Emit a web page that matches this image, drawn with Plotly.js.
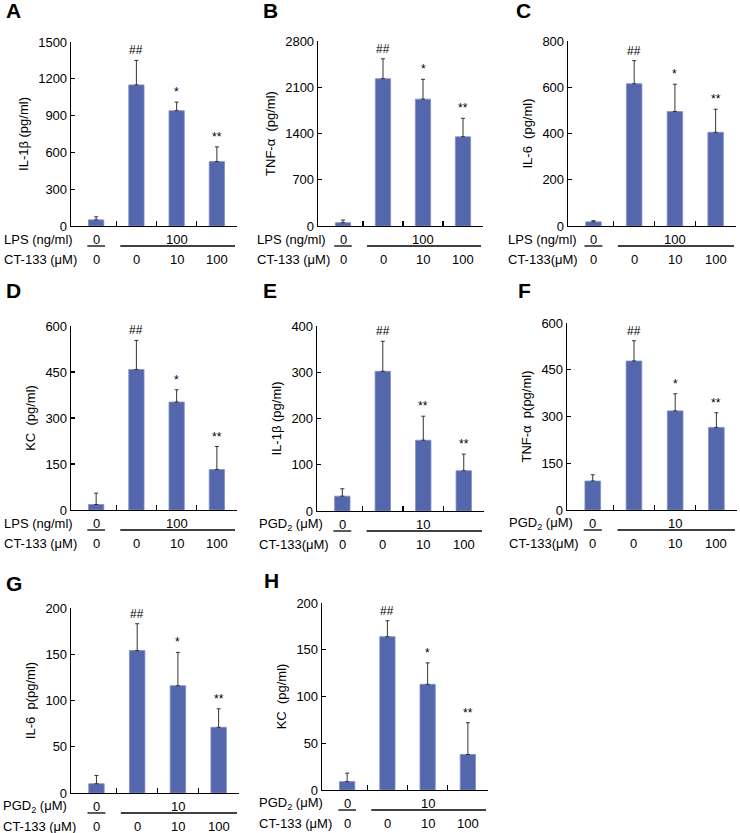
<!DOCTYPE html>
<html>
<head>
<meta charset="utf-8">
<script src="https://cdn.plot.ly/plotly-3.0.1.min.js"></script>
<style>
  body { margin: 0; background: #fff; }
  #chart { width: 740px; height: 833px; }
</style>
</head>
<body>
<div id="chart"></div>
<script>
// bar order: control, stimulus alone, stimulus + CT-133 10, stimulus + CT-133 100
const groups = [0, 1, 2, 3];
const ct133Doses = ['0', '0', '10', '100'];

// LPS panels (A-D)
const il1bLps = [50, 1150, 940, 525];
const il1bLpsErr = [25, 200, 70, 120];
const tnfLps = [50, 2230, 1920, 1350];
const tnfLpsErr = [40, 300, 300, 280];
const il6Lps = [18, 615, 495, 405];
const il6LpsErr = [5, 100, 118, 100];
const kcLps = [18, 458, 352, 132];
const kcLpsErr = [37, 95, 40, 75];

// PGD2 panels (E-H)
const il1bPgd = [32, 302, 153, 87];
const il1bPgdErr = [16, 65, 52, 36];
const tnfPgd = [93, 478, 318, 265];
const tnfPgdErr = [20, 65, 55, 47];
const il6Pgd = [10, 154, 116, 71];
const il6PgdErr = [9, 29, 36, 20];
const kcPgd = [9, 164, 113, 38];
const kcPgdErr = [9, 17, 23, 34];

const sigLps = ['', '##', '*', '**'];
const sigPgdE = ['', '##', '**', '**'];
const sigPgd = ['', '##', '*', '**'];

const panelLetters = ['A', 'B', 'C', 'D', 'E', 'F', 'G', 'H'];
const yTitles = ['IL-1β (pg/ml)', 'TNF-α\u00a0\u00a0(pg/ml)', 'IL-6\u00a0\u00a0(pg/ml)', 'KC\u00a0\u00a0(pg/ml)',
                 'IL-1β (pg/ml)', 'TNF-α\u00a0\u00a0p(pg/ml)', 'IL-6\u00a0\u00a0p(pg/ml)', 'KC\u00a0\u00a0(pg/ml)'];
const yMax = [1500, 2800, 800, 600, 400, 600, 200, 200];
const yStep = [300, 700, 200, 150, 100, 150, 50, 50];
const stimLabels = ['LPS (ng/ml)', 'LPS (ng/ml)', 'LPS (ng/ml)', 'LPS (ng/ml)',
                    'PGD<sub>2</sub> (μM)', 'PGD<sub>2</sub> (μM)', 'PGD<sub>2</sub> (μM)', 'PGD<sub>2</sub> (μM)'];
const stimDoses = [['0', '100'], ['0', '100'], ['0', '100'], ['0', '100'],
                   ['0', '10'], ['0', '10'], ['0', '10'], ['0', '10']];
const ctLabels = ['CT-133 (μM)', 'CT-133 (μM)', 'CT-133(μM)', 'CT-133 (μM)',
                  'CT-133(μM)', 'CT-133(μM)', 'CT-133 (μM)', 'CT-133 (μM)'];

const means = [il1bLps, tnfLps, il6Lps, kcLps, il1bPgd, tnfPgd, il6Pgd, kcPgd];
const errs = [il1bLpsErr, tnfLpsErr, il6LpsErr, kcLpsErr, il1bPgdErr, tnfPgdErr, il6PgdErr, kcPgdErr];
const sigs = [sigLps, sigLps, sigLps, sigLps, sigPgdE, sigPgd, sigPgd, sigPgd];

// panel placement in pixels: left, top, right, bottom of the plot area
const W = 740, H = 833;
const boxes = [
  [71, 42, 237, 226], [318, 41, 483, 226], [568, 41, 736, 226],
  [71, 326, 237, 510], [317, 326, 484, 511], [567, 323, 737, 510],
  [71, 608, 239, 793], [322, 603, 488, 790]
];
const labelX = [2, 255, 506, 2, 257, 507, 1, 257];
const letterPos = [[4, -3], [261, -3], [514, -3], [4, 277], [261, 277], [516, 277], [4, 570], [262, 567]];

const font = 'Arial, "Liberation Sans", sans-serif';
const px = v => v / W;
const py = v => 1 - v / H;

const traces = [];
const annotations = [];
const shapes = [];
const layout = {
  width: W, height: H,
  margin: { l: 0, r: 0, t: 0, b: 0 },
  paper_bgcolor: '#fff', plot_bgcolor: '#fff',
  showlegend: false,
  font: { family: font, size: 13, color: '#000' }
};

function note(xref, x, y, text, xanchor) {
  annotations.push({ xref: xref, yref: 'paper', x: x, y: y, text: text, showarrow: false,
    xanchor: xanchor || 'center', yanchor: 'middle' });
}

for (let i = 0; i < 8; i++) {
  const n = i === 0 ? '' : String(i + 1);
  const [l, t, r, b] = boxes[i];

  traces.push({
    type: 'bar',
    x: groups,
    y: means[i],
    width: 0.38,
    xaxis: 'x' + n,
    yaxis: 'y' + n,
    marker: { color: '#5467ad', line: { color: '#7f8fc6', width: 0.8 } },
    error_y: {
      type: 'data', symmetric: false,
      array: errs[i], arrayminus: [0, 0, 0, 0],
      color: '#333', thickness: 1, width: 2
    },
    hoverinfo: 'y'
  });

  layout['xaxis' + n] = {
    domain: [px(l), px(r)], anchor: 'y' + n,
    range: [-0.625, 3.5],
    showline: true, linecolor: '#000', linewidth: 1.3,
    ticks: 'inside', tickvals: [0.5, 1.5, 2.5, 3.5], ticklen: 5, tickwidth: 1.3, tickcolor: '#000',
    showticklabels: false, showgrid: false, zeroline: false
  };
  layout['yaxis' + n] = {
    domain: [py(b), py(t)], anchor: 'x' + n,
    range: [0, yMax[i]], tick0: 0, dtick: yStep[i],
    showline: true, linecolor: '#000', linewidth: 1.3,
    ticks: 'inside', ticklen: 4, tickwidth: 1.3, tickcolor: '#000',
    tickfont: { family: font, size: 13, color: '#000' },
    showgrid: false, zeroline: false,
    title: { text: yTitles[i], font: { family: font, size: 13, color: '#000' }, standoff: 6 }
  };

  // significance marks
  groups.forEach((g, j) => {
    if (!sigs[i][j]) return;
    annotations.push({
      xref: 'x' + n, yref: 'y' + n, x: g, y: means[i][j] + errs[i][j],
      text: sigs[i][j], showarrow: false, xanchor: 'center', yanchor: 'bottom', yshift: 1,
      font: { family: font, size: 12, color: '#000' }
    });
  });

  // treatment table under the axis
  const row1 = py(b + 13), line = py(b + 20), row2 = py(b + 33);
  note('paper', px(labelX[i]), row1, stimLabels[i], 'left');
  note('paper', px(labelX[i]), row2, ctLabels[i], 'left');
  note('x' + n, 0, row1, stimDoses[i][0]);
  note('x' + n, 2, row1, stimDoses[i][1]);
  groups.forEach((g, j) => note('x' + n, g, row2, ct133Doses[j]));
  shapes.push({ type: 'line', xref: 'x' + n, yref: 'paper', x0: -0.22, x1: 0.22, y0: line, y1: line,
    line: { color: '#000', width: 1.3 } });
  shapes.push({ type: 'line', xref: 'x' + n, yref: 'paper', x0: 0.6, x1: 3.45, y0: line, y1: line,
    line: { color: '#000', width: 1.3 } });

  // panel letter
  annotations.push({
    xref: 'paper', yref: 'paper', x: px(letterPos[i][0]), y: py(letterPos[i][1]),
    xanchor: 'left', yanchor: 'top', text: '<b>' + panelLetters[i] + '</b>', showarrow: false,
    font: { family: font, size: 21, color: '#000' }
  });
}

layout.annotations = annotations;
layout.shapes = shapes;

Plotly.newPlot('chart', traces, layout, { displayModeBar: false, staticPlot: true });
</script>
</body>
</html>
